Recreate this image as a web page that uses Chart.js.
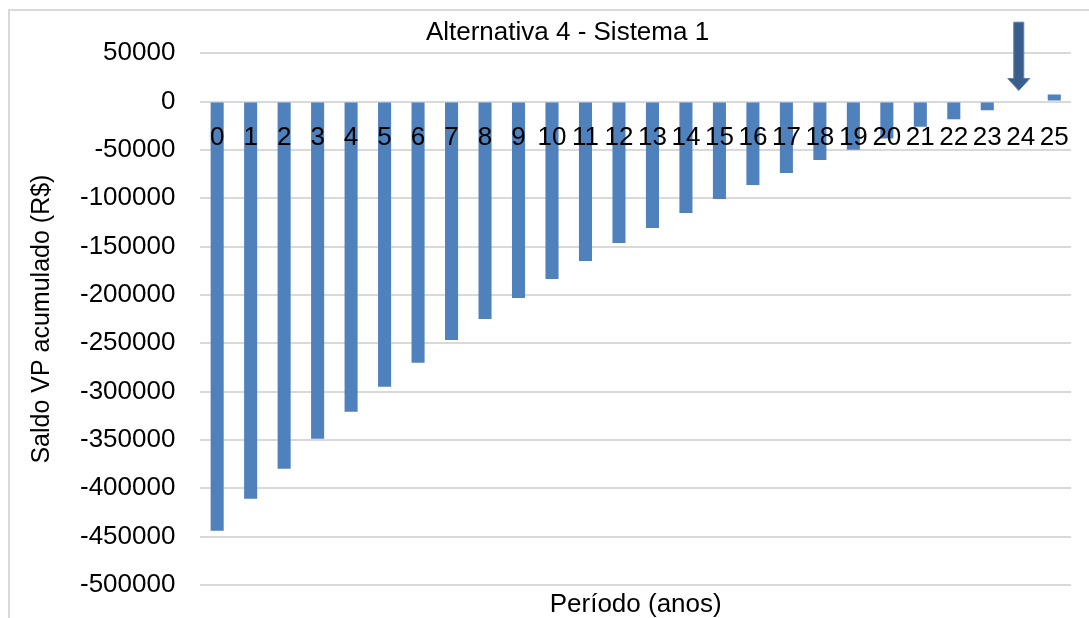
<!DOCTYPE html>
<html>
<head>
<meta charset="utf-8">
<script src="https://cdn.jsdelivr.net/npm/chart.js@4/dist/chart.umd.min.js"></script>
<style>
  body { margin: 0; background: #fff; }
  #frame { position: absolute; left: 8px; top: 9px; width: 1200px; height: 700px;
           border-left: 2px solid #d9d9d9; border-top: 2px solid #d9d9d9; }
  #wrap { position: absolute; left: 0; top: 0; width: 1089px; height: 618px; }
</style>
</head>
<body>
<div id="frame"></div>
<div id="wrap"><canvas id="chart" width="1089" height="618"></canvas></div>
<script>
// periods (years)
var periods = ["0","1","2","3","4","5","6","7","8","9","10","11","12","13","14","15","16","17","18","19","20","21","22","23","24","25"];
// accumulated present value balance (R$)
var saldo = [-444000, -410700, -379700, -348700, -320900, -295000, -270200, -246500, -224800, -203100,
             -183500, -164900, -146300, -130800, -115300, -100800, -86400, -74000, -60500, -49900,
             -38100, -26100, -18200, -8900, 0, 7300];
var yMin = -500000;
var yMax = 50000;
var yStep = 50000;
// period pointed at by the arrow (payback)
var arrowAt = "24";

var fontFamily = 'Arial, "Liberation Sans", sans-serif';

// down arrow above the payback period
var arrowPlugin = {
  id: "arrow",
  afterDatasetsDraw: function (chart) {
    var ctx = chart.ctx;
    var x = chart.scales.x.getPixelForValue(periods.indexOf(arrowAt)) - 2;
    var tip = chart.scales.y.getPixelForValue(0) - 11;
    var top = chart.chartArea.top - 31;
    ctx.save();
    ctx.fillStyle = "#3a5e8c";
    ctx.strokeStyle = "#5a80b0";
    ctx.lineWidth = 1;
    ctx.beginPath();
    ctx.moveTo(x - 5, top);
    ctx.lineTo(x + 5, top);
    ctx.lineTo(x + 5, tip - 12);
    ctx.lineTo(x + 11, tip - 12);
    ctx.lineTo(x, tip);
    ctx.lineTo(x - 11, tip - 12);
    ctx.lineTo(x - 5, tip - 12);
    ctx.closePath();
    ctx.fill();
    ctx.stroke();
    ctx.restore();
  }
};

var ctx = document.getElementById("chart").getContext("2d");
var myChart = new Chart(ctx, {
  type: "bar",
  data: {
    labels: periods,
    datasets: [{
      label: "Saldo VP acumulado",
      data: saldo,
      backgroundColor: "#4f81bd",
      borderWidth: 0,
      barPercentage: 0.39,
      categoryPercentage: 1
    }]
  },
  options: {
    responsive: false,
    animation: false,
    layout: { padding: { left: 64, right: 18, top: 0, bottom: 0 } },
    plugins: {
      legend: { display: false },
      tooltip: { enabled: false },
      title: {
        display: true,
        text: "Alternativa 4 - Sistema 1",
        color: "#000",
        font: { family: fontFamily, size: 26, weight: "normal", lineHeight: 1.2 },
        padding: { top: 17, bottom: 5 }
      }
    },
    scales: {
      x: {
        position: { y: 0 },
        grid: { display: false },
        border: { display: false },
        ticks: {
          z: 1,
          color: "#000",
          padding: 13,
          maxRotation: 0,
          autoSkip: false,
          font: { family: fontFamily, size: 26 }
        }
      },
      // bottom axis only carries the title
      x2: {
        type: "category",
        labels: periods,
        position: "bottom",
        grid: { display: false, drawTicks: false },
        border: { display: false },
        ticks: { display: false },
        title: {
          display: true,
          text: "Período (anos)",
          color: "#000",
          font: { family: fontFamily, size: 26, lineHeight: 1 },
          padding: { top: 7, bottom: 0 }
        }
      },
      y: {
        min: yMin,
        max: yMax,
        grid: { color: "#d9d9d9", lineWidth: 2, drawTicks: false },
        border: { display: false },
        ticks: {
          stepSize: yStep,
          color: "#000",
          padding: 25,
          font: { family: fontFamily, size: 26 },
          callback: function (value) { return String(value); }
        },
        // keep only half a label of room below the plot
        afterFit: function (scale) {
          scale.paddingBottom = 16;
        },
        title: {
          display: true,
          text: "Saldo VP acumulado (R$)",
          color: "#000",
          font: { family: fontFamily, size: 25, lineHeight: 1 },
          padding: { top: -34, bottom: 0 }
        }
      }
    }
  },
  plugins: [arrowPlugin]
});
</script>
</body>
</html>
